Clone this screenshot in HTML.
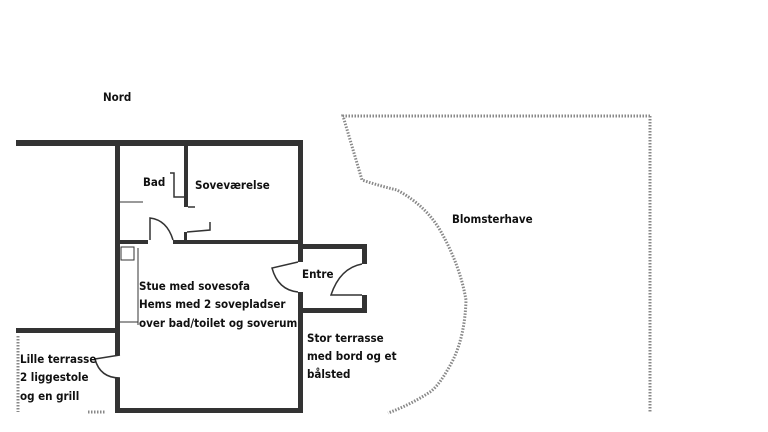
<!DOCTYPE html>
<html><head><meta charset="utf-8"><style>
html,body{margin:0;padding:0;background:#fff;}
svg{display:block}
text{font-family:"DejaVu Sans Condensed","Liberation Sans",sans-serif;font-weight:bold;font-size:11.5px;fill:#111;}
</style></head><body>
<svg width="768" height="432" viewBox="0 0 768 432" xmlns="http://www.w3.org/2000/svg">
<rect width="768" height="432" fill="#fff"/>
<g fill="none" stroke="#888" stroke-width="3" stroke-dasharray="1.5 1.5">
<path d="M650 116 L343 116 L362 180 Q380 186 397 190 Q425 205 440 230 Q460 265 466 300 Q465 335 453 360 Q440 385 430 392 Q410 405 388 413"/>
<path d="M650 116 L650 413"/>
<path d="M18 336 L18 412"/>
<path d="M88 412 L105 412"/>
</g>
<g fill="#333">
<rect x="16" y="140" width="287" height="6"/>
<rect x="115" y="140" width="5" height="215"/>
<rect x="115" y="378" width="5" height="35"/>
<rect x="115" y="408" width="188" height="5"/>
<rect x="298" y="140" width="5" height="122"/>
<rect x="298" y="292" width="5" height="121"/>
<rect x="298" y="244" width="69" height="5"/>
<rect x="362" y="244" width="5" height="20"/>
<rect x="362" y="295" width="5" height="18"/>
<rect x="298" y="308" width="69" height="5"/>
<rect x="16" y="328" width="104" height="5"/>
<rect x="120" y="240" width="28" height="4"/>
<rect x="173" y="240" width="127" height="4"/>
<rect x="184" y="146" width="4" height="61"/>
<rect x="184" y="232" width="3" height="10"/>
</g>
<g fill="none" stroke="#333" stroke-width="1.5">
<path d="M170 173 L174 173 L174 197 L184 197"/>
<path d="M188 207 L195 207"/>
<path d="M150 240 L150 218 Q167 220 173 240"/>
<path d="M187 232 L210 230 L210 222"/>
<path d="M120 202 L143 202" stroke-width="1"/>
<path d="M298 262 L272 268 Q278 290 298 292"/>
<path d="M362 264 Q340 268 331 295 L362 295"/>
<path d="M120 355 L95 359 Q100 378 120 378"/>
<path d="M138 248 L138 325" stroke-width="1"/>
<path d="M120 322 L138 322" stroke-width="1"/>
<rect x="121" y="247" width="13" height="13" stroke-width="1"/>
</g>
<text x="103" y="101">Nord</text>
<text x="143" y="186">Bad</text>
<text x="195" y="189">Soveværelse</text>
<text x="452" y="223">Blomsterhave</text>
<text x="302" y="278">Entre</text>
<text x="139" y="290">Stue med sovesofa</text>
<text x="139" y="308">Hems med 2 sovepladser</text>
<text x="139" y="327">over bad/toilet og soverum</text>
<text x="307" y="342">Stor terrasse</text>
<text x="307" y="360">med bord og et</text>
<text x="307" y="378">bålsted</text>
<text x="20" y="363">Lille terrasse</text>
<text x="20" y="381">2 liggestole</text>
<text x="20" y="400">og en grill</text>
</svg>
</body></html>
